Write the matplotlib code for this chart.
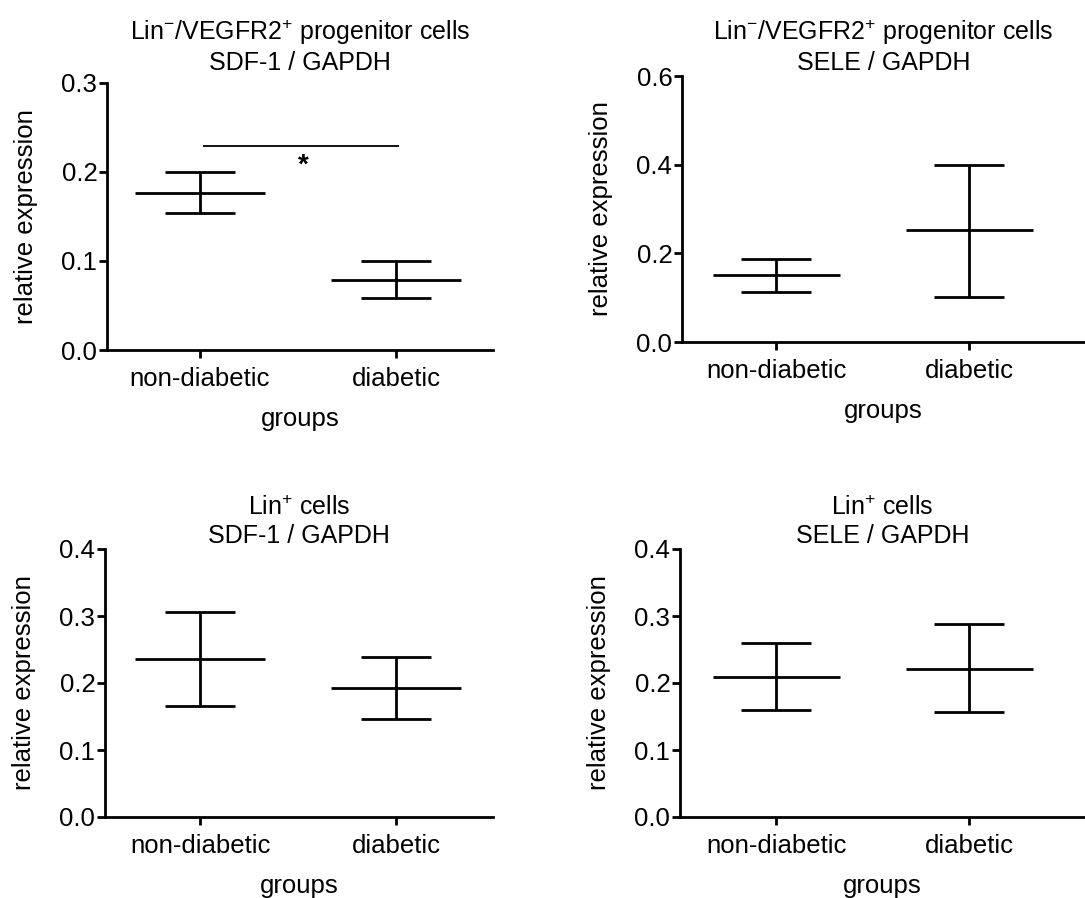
import numpy as np
from matplotlib import pyplot as plt

plt.rcParams['font.family'] = ['Liberation Sans', 'DejaVu Sans']
plt.rcParams['mathtext.fontset'] = 'custom'
plt.rcParams['mathtext.rm'] = 'Liberation Sans'
plt.rcParams['mathtext.it'] = 'Liberation Sans'

# data (mean, upper, lower) per group
groups = ["non-diabetic", "diabetic"]

sdf1_prog_mean = [0.176, 0.079]
sdf1_prog_hi = [0.200, 0.100]
sdf1_prog_lo = [0.154, 0.058]

sele_prog_mean = [0.151, 0.253]
sele_prog_hi = [0.187, 0.399]
sele_prog_lo = [0.113, 0.102]

sdf1_lin_mean = [0.236, 0.193]
sdf1_lin_hi = [0.306, 0.239]
sdf1_lin_lo = [0.166, 0.146]

sele_lin_mean = [0.209, 0.221]
sele_lin_hi = [0.260, 0.288]
sele_lin_lo = [0.160, 0.157]

sig_level = 0.229
star_level = 0.207

W, H = 1085, 898
fig = plt.figure(figsize=(W / 100, H / 100), dpi=100)


def px_axes(left, top, right, bottom):
    return fig.add_axes([left / W, 1 - bottom / H, (right - left) / W, (bottom - top) / H])


def panel(ax, title, means, his, los, ymax, ystep, xlim, tpad=4):
    x = np.arange(len(groups))
    means = np.array(means)
    his = np.array(his)
    los = np.array(los)
    ax.hlines(means, x - 0.33, x + 0.33, color='black', lw=2.0)
    ax.errorbar(x, means, yerr=[means - los, his - means], fmt='none',
                ecolor='black', elinewidth=2.0, capsize=25, capthick=2.0)
    ax.set_xlim(*xlim)
    ax.set_ylim(0, ymax)
    ticks = np.arange(0, ymax + ystep / 2, ystep)
    ax.set_yticks(ticks)
    ax.set_yticklabels([f"{t:.1f}" for t in ticks])
    ax.set_xticks(x)
    ax.set_xticklabels(groups)
    for s in ['top', 'right']:
        ax.spines[s].set_visible(False)
    for s in ['left', 'bottom']:
        ax.spines[s].set_linewidth(2.0)
    ax.tick_params(axis='both', length=6, width=2.0, labelsize=18.5, pad=1)
    ax.tick_params(axis='x', pad=6)
    ax.set_ylabel("relative expression", fontsize=18.5, labelpad=17)
    ax.set_xlabel("groups", fontsize=18.5, labelpad=12)
    ax.set_title(title, fontsize=18, linespacing=1.25, pad=tpad)


ax1 = px_axes(107, 83, 493, 350)
panel(ax1, "Lin$^{-}$/VEGFR2$^{+}$ progenitor cells\nSDF-1 / GAPDH",
      sdf1_prog_mean, sdf1_prog_hi, sdf1_prog_lo, 0.3, 0.1, (-0.474, 1.495),
      tpad=9)
ax1.hlines(sig_level, 0.015, 1.015, color='black', lw=1.3)
ax1.text(0.525, star_level, "*", ha='center', va='center', fontsize=20,
         fontweight='bold')

ax2 = px_axes(682, 76, 1085, 342)
panel(ax2, "Lin$^{-}$/VEGFR2$^{+}$ progenitor cells\nSELE / GAPDH",
      sele_prog_mean, sele_prog_hi, sele_prog_lo, 0.6, 0.2, (-0.49, 1.6))

ax3 = px_axes(105, 549, 493, 817)
panel(ax3, "Lin$^{+}$ cells\nSDF-1 / GAPDH",
      sdf1_lin_mean, sdf1_lin_hi, sdf1_lin_lo, 0.4, 0.1, (-0.485, 1.495))

ax4 = px_axes(680, 549, 1085, 817)
panel(ax4, "Lin$^{+}$ cells\nSELE / GAPDH",
      sele_lin_mean, sele_lin_hi, sele_lin_lo, 0.4, 0.1, (-0.5, 1.6))

fig.savefig("out.png", dpi=100)
